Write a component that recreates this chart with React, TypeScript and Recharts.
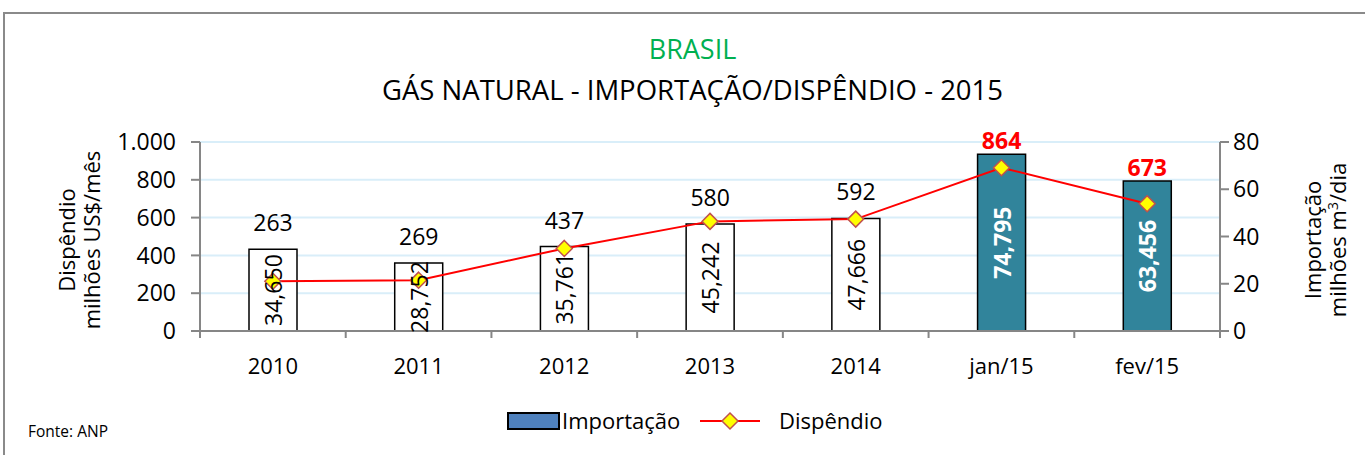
import React from "react";
import { Bar, Cell, ComposedChart, CartesianGrid, LabelList, Line, XAxis, YAxis } from "recharts";

const categories = ["2010", "2011", "2012", "2013", "2014", "jan/15", "fev/15"];
const importacao = [34.65, 28.752, 35.761, 45.242, 47.666, 74.795, 63.456];
const dispendio = [263, 269, 437, 580, 592, 864, 673];
const highlighted = ["jan/15", "fev/15"];
const leftTicks = [0, 200, 400, 600, 800, 1000];
const rightTicks = [0, 20, 40, 60, 80];

const data = categories.map((c, i) => ({ name: c, importacao: importacao[i], dispendio: dispendio[i] }));

const FONT = "'Open Sans', sans-serif";
const BAND = 1020 / 7;

const fmtBR = (v: number) => v.toLocaleString("pt-BR");
const fmtImp = (v: number) => v.toFixed(3).replace(".", ",");

function XTick(props: any) {
  const { x, y, payload, index } = props;
  return (
    <g>
      <line x1={x - BAND / 2} x2={x - BAND / 2} y1={y - 8} y2={y - 1} stroke="#868686" strokeWidth={2} />
      {index === categories.length - 1 && (
        <line x1={x + BAND / 2} x2={x + BAND / 2} y1={y - 8} y2={y - 1} stroke="#868686" strokeWidth={2} />
      )}
      <text x={x} y={y + 35} textAnchor="middle" fontSize={22} fill="#000" fontFamily={FONT}>
        {payload.value}
      </text>
    </g>
  );
}

function BarValue(props: any) {
  const { x, y, width, height, value, index } = props;
  const hi = highlighted.includes(categories[index]);
  const cx = x + width / 2;
  const cy = y + height / 2;
  return (
    <text
      x={cx}
      y={cy}
      transform={`rotate(-90 ${cx} ${cy})`}
      textAnchor="middle"
      dominantBaseline="central"
      fontSize={23}
      fontWeight={hi ? 700 : 400}
      fill={hi ? "#fff" : "#000"}
      fontFamily={FONT}
    >
      {fmtImp(value)}
    </text>
  );
}

function SpendValue(props: any) {
  const { x, y, width, value, index } = props;
  const hi = highlighted.includes(categories[index]);
  return (
    <text
      x={x + width / 2}
      y={y - (hi ? 5 : 18)}
      textAnchor="middle"
      fontSize={23}
      fontWeight={hi ? 700 : 400}
      fill={hi ? "#ff0000" : "#000"}
      fontFamily={FONT}
    >
      {value}
    </text>
  );
}

function Diamond(props: any) {
  const { cx, cy } = props;
  const r = 8;
  return (
    <polygon
      points={`${cx},${cy - r} ${cx + r},${cy} ${cx},${cy + r} ${cx - r},${cy}`}
      fill="#ffff00"
      stroke="#c0504d"
      strokeWidth={1.5}
    />
  );
}

function LegendBox() {
  return (
    <svg width={420} height={40} style={{ display: "block" }}>
      <rect x={1} y={12} width={51} height={16} fill="#4f81bd" stroke="#000" strokeWidth={2} />
      <text x={55} y={28} fontSize={22} fontFamily={FONT}>Importação</text>
      <line x1={193} x2={253} y1={20} y2={20} stroke="#ff0000" strokeWidth={2} />
      <polygon points="223,12 231,20 223,28 215,20" fill="#ffff00" stroke="#c0504d" strokeWidth={1.5} />
      <text x={272} y={28} fontSize={22} fontFamily={FONT}>Dispêndio</text>
    </svg>
  );
}

export default function App() {
  return (
    <div style={{ position: "absolute", left: 0, top: 0, width: 1365, height: 455, background: "#fff", overflow: "hidden" }}>
      <div style={{ position: "absolute", left: 3, top: 12, width: 1400, height: 500, border: "2px solid #8a8a8a", boxSizing: "border-box" }} />
      <div style={{ position: "absolute", left: 0, width: 1385, top: 30, textAlign: "center", fontFamily: FONT, fontSize: 27, color: "#00b050" }}>
        BRASIL
      </div>
      <div style={{ position: "absolute", left: 0, width: 1385, top: 71, textAlign: "center", fontFamily: FONT, fontSize: 27.5, color: "#000" }}>
        GÁS NATURAL - IMPORTAÇÃO/DISPÊNDIO - 2015
      </div>
      <svg style={{ position: "absolute", left: 0, top: 0 }} width={1365} height={455}>
        <g fontFamily={FONT} fontSize={22} textAnchor="middle">
          <text transform="translate(75 240) rotate(-90)">Dispêndio</text>
          <text transform="translate(100 240) rotate(-90)">milhões US$/mês</text>
          <text transform="translate(1321 240) rotate(-90)">Importação</text>
          <text transform="translate(1346 240) rotate(-90)">
            milhões m<tspan fontSize={14} dy={-8}>3</tspan>
            <tspan dy={8}>/dia</tspan>
          </text>
        </g>
        <text x={28} y={437} fontFamily={FONT} fontSize={15.5}>Fonte: ANP</text>
      </svg>
      <div style={{ position: "absolute", left: 0, top: 0 }}>
        <ComposedChart width={1365} height={455} data={data} margin={{ top: 142, right: 0, bottom: 64, left: 0 }}>
          <CartesianGrid yAxisId="left" vertical={false} stroke="#d9eef9" strokeWidth={2} />
          <XAxis dataKey="name" tick={<XTick />} tickLine={false} axisLine={{ stroke: "#868686", strokeWidth: 2 }} height={60} interval={0} />
          <YAxis
            yAxisId="left"
            width={200}
            domain={[0, 1000]}
            ticks={leftTicks}
            tickFormatter={fmtBR}
            axisLine={{ stroke: "#868686", strokeWidth: 2 }}
            tickLine={{ stroke: "#868686", strokeWidth: 2 }}
            tickSize={9}
            tickMargin={15}
            tick={{ fill: "#000", fontSize: 23, fontFamily: FONT }}
          />
          <YAxis
            yAxisId="right"
            orientation="right"
            width={145}
            domain={[0, 80]}
            ticks={rightTicks}
            axisLine={{ stroke: "#868686", strokeWidth: 2 }}
            tickLine={{ stroke: "#868686", strokeWidth: 2 }}
            tickSize={9}
            tickMargin={4}
            tick={{ fill: "#000", fontSize: 23, fontFamily: FONT }}
          />
          <Bar yAxisId="right" dataKey="importacao" barSize={48} stroke="#000" strokeWidth={1.5} isAnimationActive={false}>
            {data.map((d) => (
              <Cell key={d.name} fill={highlighted.includes(d.name) ? "#31849b" : "#fff"} />
            ))}
            <LabelList dataKey="importacao" content={<BarValue />} />
            <LabelList dataKey="dispendio" content={<SpendValue />} />
          </Bar>
          <Line yAxisId="left" dataKey="dispendio" stroke="#ff0000" strokeWidth={2} dot={<Diamond />} activeDot={false} isAnimationActive={false} />
        </ComposedChart>
      </div>
      <div style={{ position: "absolute", left: 507, top: 401 }}>
        <LegendBox />
      </div>
    </div>
  );
}
